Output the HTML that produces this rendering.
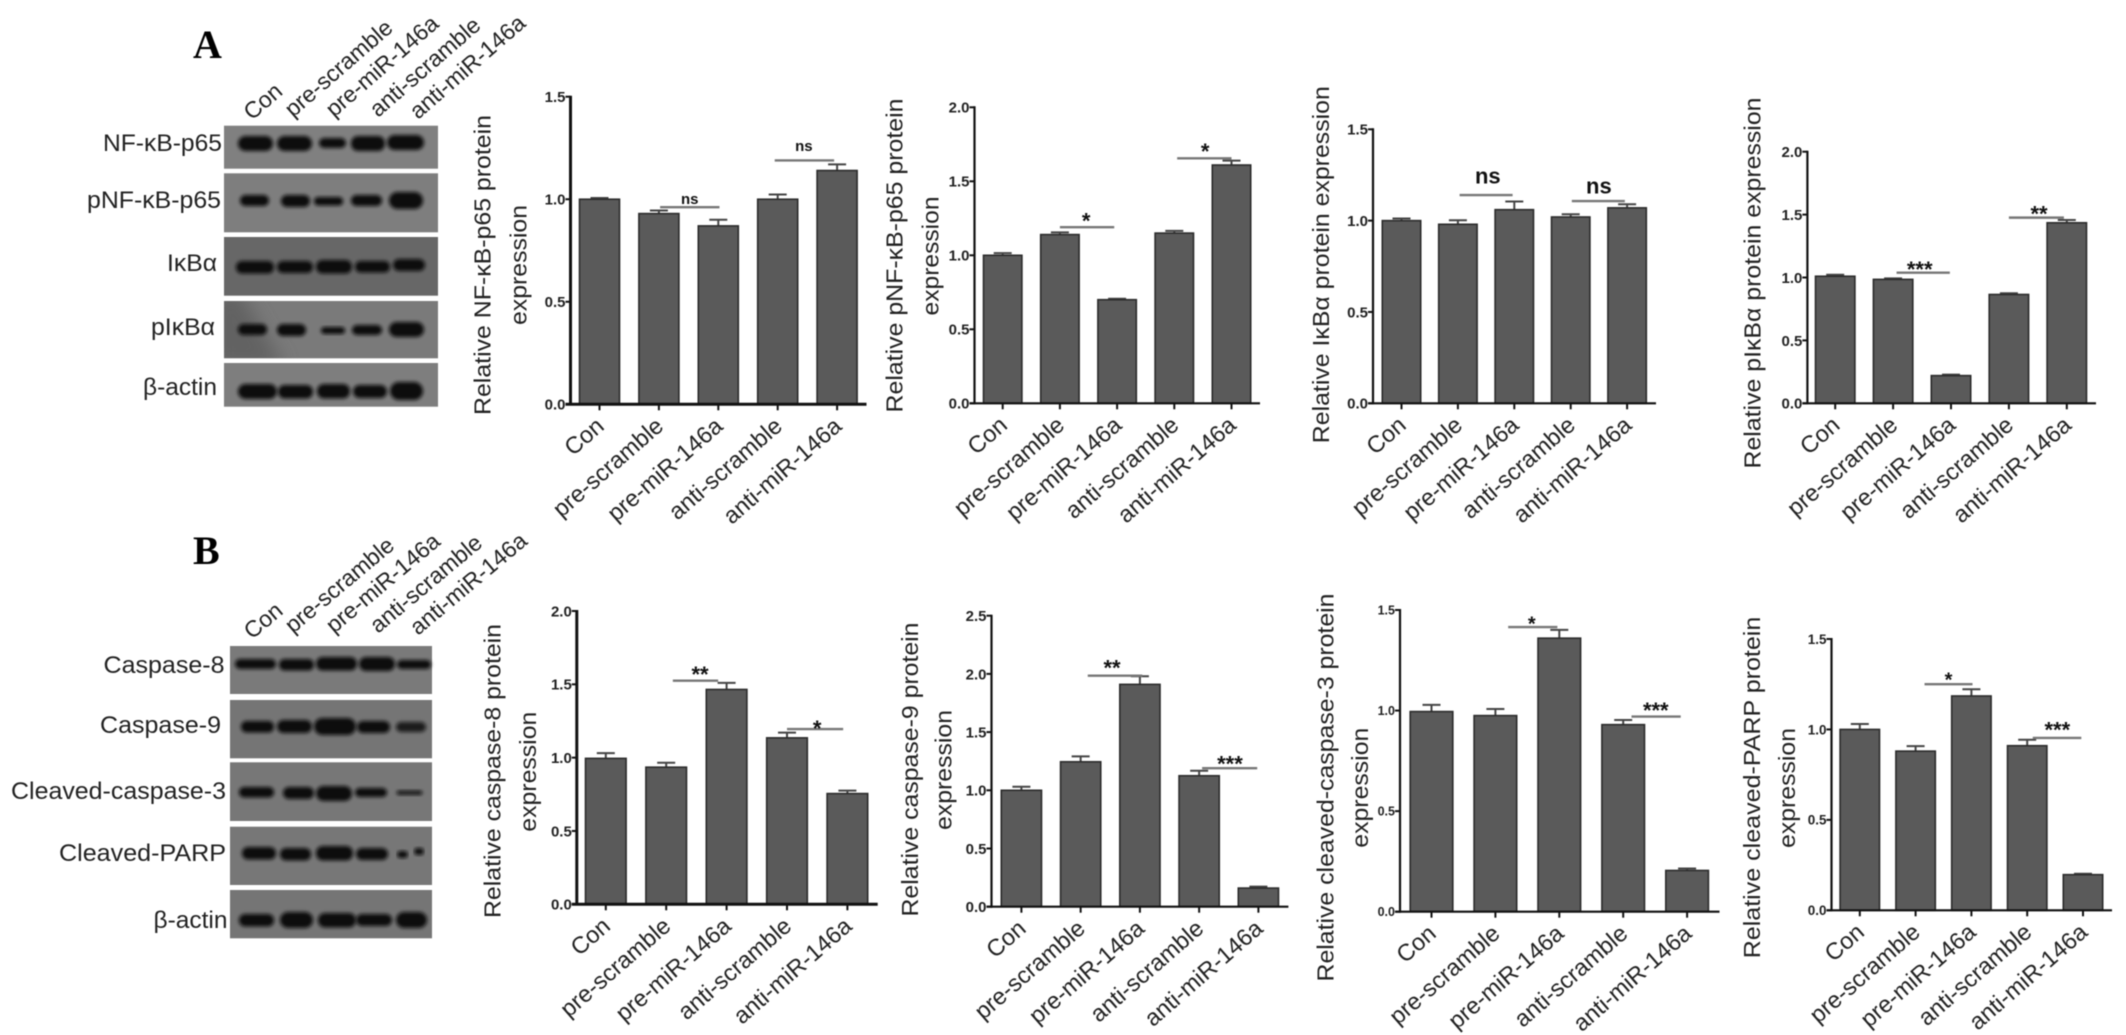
<!DOCTYPE html>
<html lang="en">
<head>
<meta charset="utf-8">
<title>Western blots and relative protein expression</title>
<style>
html,body{margin:0;padding:0;background:#fff;width:2126px;height:1035px;overflow:hidden}
svg{display:block;filter:blur(.45px)}
text{font-family:"Liberation Sans",sans-serif;fill:#222}
.letter{font-family:"Liberation Serif",serif;font-weight:bold;font-size:40px;fill:#000}
.blab{font-size:24px}
.lane{font-size:23px}
.band{fill:#0d0d0d;stroke:#0d0d0d;stroke-width:2;filter:url(#bandBlur)}
</style>
</head>
<body>
<svg id="figure" xmlns="http://www.w3.org/2000/svg" width="2126" height="1035" viewBox="0 0 2126 1035">
<defs>
<filter id="bandBlur" x="-20%" y="-60%" width="140%" height="220%"><feGaussianBlur stdDeviation="1.9"/></filter>
<filter id="softBlur" x="-30%" y="-30%" width="160%" height="160%"><feGaussianBlur stdDeviation="9"/></filter>
<clipPath id="clipP4"><rect x="224" y="301" width="214" height="57"/></clipPath>
</defs>

<text class="letter" x="193" y="58">A</text>
<text class="letter" x="193" y="564">B</text>

<!-- Blot A lane labels -->
<g>
<text class="lane" transform="translate(252,121) rotate(-41)">Con</text>
<text class="lane" transform="translate(293,118) rotate(-41)">pre-scramble</text>
<text class="lane" transform="translate(334,118) rotate(-41)">pre-miR-146a</text>
<text class="lane" transform="translate(378,118) rotate(-41)">anti-scramble</text>
<text class="lane" transform="translate(418,120) rotate(-41)">anti-miR-146a</text>
</g>

<!-- Blot A -->
<g>
<text class="blab" x="222" y="151" text-anchor="end" textLength="119" lengthAdjust="spacingAndGlyphs">NF-κB-p65</text>
<text class="blab" x="221" y="208" text-anchor="end" textLength="134" lengthAdjust="spacingAndGlyphs">pNF-κB-p65</text>
<text class="blab" x="217" y="271" text-anchor="end" textLength="50" lengthAdjust="spacingAndGlyphs">IκBα</text>
<text class="blab" x="215" y="335" text-anchor="end" textLength="64" lengthAdjust="spacingAndGlyphs">pIκBα</text>
<text class="blab" x="217" y="395" text-anchor="end" textLength="74" lengthAdjust="spacingAndGlyphs">β-actin</text>

<rect x="224" y="125.7" width="214" height="43" fill="#808080"/>
<rect class="band" x="239" y="137" width="33" height="13" rx="6.5"/>
<rect class="band" x="278" y="137" width="33" height="13" rx="6.5"/>
<rect class="band" x="320" y="139" width="25" height="8" rx="4"/>
<rect class="band" x="352" y="137" width="32" height="13" rx="6"/>
<rect class="band" x="388" y="136" width="35" height="13" rx="6.5"/>

<rect x="224" y="173.3" width="214" height="59" fill="#7e7e7e"/>
<rect class="band" x="241" y="196" width="27" height="9" rx="4.5"/>
<rect class="band" x="282" y="196" width="27" height="10" rx="5"/>
<rect class="band" x="315" y="198" width="27" height="6.5" rx="3"/>
<rect class="band" x="352" y="196" width="29" height="9" rx="4.5"/>
<rect class="band" x="390" y="193" width="32" height="15" rx="7.5"/>

<rect x="224" y="237" width="214" height="58.7" fill="#676767"/>
<rect class="band" x="237" y="262" width="36" height="10.5" rx="5"/>
<rect class="band" x="278" y="262" width="34" height="10" rx="5"/>
<rect class="band" x="317" y="261" width="34" height="11.5" rx="5.5"/>
<rect class="band" x="356" y="262" width="33" height="9.5" rx="4.5"/>
<rect class="band" x="394" y="260" width="30" height="10" rx="5"/>

<rect x="224" y="301" width="214" height="57.3" fill="#7a7a7a"/>
<g clip-path="url(#clipP4)">
<polygon points="214,291 240,291 285,368 214,368" fill="#626262" filter="url(#softBlur)"/>
</g>
<rect class="band" x="239" y="325" width="27" height="9" rx="4.5"/>
<rect class="band" x="278" y="325" width="27" height="10" rx="5"/>
<rect class="band" x="322" y="328" width="22" height="5" rx="2.5"/>
<rect class="band" x="353" y="326" width="28" height="8" rx="4"/>
<rect class="band" x="390" y="323" width="33" height="13" rx="6.5"/>

<rect x="224" y="363" width="214" height="43.7" fill="#7e7e7e"/>
<rect class="band" x="239" y="385" width="37" height="13" rx="6.5"/>
<rect class="band" x="279" y="386" width="33" height="11.5" rx="5.5"/>
<rect class="band" x="318" y="385" width="31" height="12.5" rx="6"/>
<rect class="band" x="354" y="386" width="32" height="11" rx="5.5"/>
<rect class="band" x="391" y="383" width="31" height="16" rx="8"/>
</g>

<!-- Blot B lane labels -->
<g>
<text class="lane" transform="translate(252,640) rotate(-40)">Con</text>
<text class="lane" transform="translate(293,634) rotate(-40)">pre-scramble</text>
<text class="lane" transform="translate(334,634) rotate(-40)">pre-miR-146a</text>
<text class="lane" transform="translate(378,634) rotate(-40)">anti-scramble</text>
<text class="lane" transform="translate(418,636) rotate(-40)">anti-miR-146a</text>
</g>

<!-- Blot B -->
<g>
<text class="blab" x="224.5" y="673" text-anchor="end" textLength="121" lengthAdjust="spacingAndGlyphs">Caspase-8</text>
<text class="blab" x="221" y="733" text-anchor="end" textLength="121" lengthAdjust="spacingAndGlyphs">Caspase-9</text>
<text class="blab" x="226" y="799" text-anchor="end" textLength="215" lengthAdjust="spacingAndGlyphs">Cleaved-caspase-3</text>
<text class="blab" x="226" y="861" text-anchor="end" textLength="167" lengthAdjust="spacingAndGlyphs">Cleaved-PARP</text>
<text class="blab" x="227.5" y="928" text-anchor="end" textLength="74" lengthAdjust="spacingAndGlyphs">β-actin</text>

<rect x="230" y="646" width="202" height="48" fill="#7a7a7a"/>
<rect class="band" x="236" y="660" width="39" height="8" rx="4"/>
<rect class="band" x="280" y="660" width="33" height="9.5" rx="4.5"/>
<rect class="band" x="317" y="658" width="39" height="11.5" rx="5.5"/>
<rect class="band" x="360" y="658" width="34" height="12" rx="6"/>
<rect class="band" x="398" y="661" width="32" height="7" rx="3.5"/>

<rect x="230" y="700" width="202" height="58.3" fill="#757575"/>
<rect class="band" x="242" y="722" width="31" height="9.5" rx="4.5"/>
<rect class="band" x="278" y="721" width="33" height="11" rx="5.5"/>
<rect class="band" x="315" y="719" width="40" height="15" rx="7.5"/>
<rect class="band" x="358" y="722" width="31" height="10" rx="5"/>
<rect class="band" x="397" y="723" width="28" height="8" rx="4" opacity=".85"/>

<rect x="230" y="762.3" width="202" height="58.7" fill="#777"/>
<rect class="band" x="240" y="788" width="33" height="8.5" rx="4"/>
<rect class="band" x="284" y="788" width="29" height="10" rx="5"/>
<rect class="band" x="317" y="787" width="34" height="13" rx="6.5"/>
<rect class="band" x="356" y="789" width="30" height="7" rx="3.5"/>
<rect class="band" x="397" y="791" width="25" height="3.5" rx="1.7" style="stroke-width:.6"/>

<rect x="230" y="826.7" width="202" height="58.3" fill="#777"/>
<rect class="band" x="243" y="848" width="32" height="10.5" rx="5"/>
<rect class="band" x="281" y="849" width="29" height="10.5" rx="5"/>
<rect class="band" x="317" y="847" width="35" height="12.5" rx="6"/>
<rect class="band" x="357" y="849" width="30" height="10" rx="5"/>
<rect class="band" x="398" y="852" width="9" height="5" rx="2.5"/>
<rect class="band" x="415" y="849" width="8" height="5" rx="2.5"/>

<rect x="230" y="890" width="202" height="48.3" fill="#757575"/>
<rect class="band" x="240" y="915" width="33" height="10.5" rx="5"/>
<rect class="band" x="281" y="913" width="31" height="14" rx="7"/>
<rect class="band" x="319" y="914" width="36" height="12.5" rx="6"/>
<rect class="band" x="357" y="915" width="34" height="10" rx="5"/>
<rect class="band" x="397" y="913" width="29" height="14" rx="7"/>
</g>

<g id="charts"></g>
</svg>

<script>
const categories = ['Con', 'pre-scramble', 'pre-miR-146a', 'anti-scramble', 'anti-miR-146a'];

const a1Ticks = ['0.0', '0.5', '1.0', '1.5'];
const a1Values = [1.0, 0.93, 0.87, 1.0, 1.14];
const a1Errors = [0.006, 0.015, 0.03, 0.023, 0.03];
const a1Sig = [
  {from: 1.02, to: 2.02, level: 0.961, text: 'ns', labelAt: 1.52, labelLevel: 0.997, size: 15},
  {from: 2.95, to: 3.95, level: 1.189, text: 'ns', labelAt: 3.44, labelLevel: 1.256, size: 15}
];

const a2Ticks = ['0.0', '0.5', '1.0', '1.5', '2.0'];
const a2Values = [1.0, 1.14, 0.70, 1.15, 1.61];
const a2Errors = [0.015, 0.015, 0.006, 0.015, 0.03];
const a2Sig = [
  {from: 1.0, to: 1.95, level: 1.19, text: '*', labelAt: 1.46, labelLevel: 1.26, size: 22},
  {from: 3.05, to: 4.0, level: 1.655, text: '*', labelAt: 3.54, labelLevel: 1.727, size: 22}
];

const a3Ticks = ['0.0', '0.5', '1.0', '1.5'];
const a3Values = [1.0, 0.98, 1.06, 1.02, 1.07];
const a3Errors = [0.012, 0.022, 0.045, 0.015, 0.02];
const a3Sig = [
  {from: 1.03, to: 1.97, level: 1.14, text: 'ns', labelAt: 1.53, labelLevel: 1.235, size: 22},
  {from: 3.02, to: 3.96, level: 1.107, text: 'ns', labelAt: 3.5, labelLevel: 1.18, size: 22}
];

const a4Ticks = ['0.0', '0.5', '1.0', '1.5', '2.0'];
const a4Values = [1.01, 0.985, 0.22, 0.865, 1.435];
const a4Errors = [0.012, 0.008, 0.008, 0.01, 0.022];
const a4Sig = [
  {from: 1.06, to: 1.98, level: 1.038, text: '***', labelAt: 1.46, labelLevel: 1.094, size: 22},
  {from: 3.0, to: 3.95, level: 1.476, text: '**', labelAt: 3.52, labelLevel: 1.537, size: 22}
];

const b1Ticks = ['0.0', '0.5', '1.0', '1.5', '2.0'];
const b1Values = [0.995, 0.935, 1.465, 1.135, 0.755];
const b1Errors = [0.036, 0.03, 0.045, 0.036, 0.02];
const b1Sig = [
  {from: 1.11, to: 1.86, level: 1.525, text: '**', labelAt: 1.56, labelLevel: 1.593, size: 22},
  {from: 3.0, to: 3.93, level: 1.195, text: '*', labelAt: 3.5, labelLevel: 1.227, size: 22}
];

const b2Ticks = ['0.0', '0.5', '1.0', '1.5', '2.0', '2.5'];
const b2Values = [1.0, 1.245, 1.91, 1.125, 0.16];
const b2Errors = [0.03, 0.046, 0.07, 0.043, 0.012];
const b2Sig = [
  {from: 1.12, to: 2.04, level: 1.985, text: '**', labelAt: 1.53, labelLevel: 2.085, size: 22},
  {from: 3.05, to: 3.98, level: 1.19, text: '***', labelAt: 3.52, labelLevel: 1.26, size: 22}
];

const b3Ticks = ['0.0', '0.5', '1.0', '1.5'];
const b3Values = [0.995, 0.975, 1.36, 0.93, 0.205];
const b3Errors = [0.033, 0.033, 0.041, 0.023, 0.01];
const b3Sig = [
  {from: 1.2, to: 1.97, level: 1.415, text: '*', labelAt: 1.57, labelLevel: 1.45, size: 20},
  {from: 3.13, to: 3.9, level: 0.97, text: '***', labelAt: 3.51, labelLevel: 1.02, size: 22}
];

const b4Ticks = ['0.0', '0.5', '1.0', '1.5'];
const b4Values = [1.0, 0.88, 1.185, 0.91, 0.197];
const b4Errors = [0.03, 0.028, 0.037, 0.033, 0.005];
const b4Sig = [
  {from: 1.16, to: 2.02, level: 1.25, text: '*', labelAt: 1.59, labelLevel: 1.295, size: 20},
  {from: 3.1, to: 3.97, level: 0.953, text: '***', labelAt: 3.54, labelLevel: 1.019, size: 22}
];

const chartList = [
  {id: 'nf-kb-p65', ticks: a1Ticks, values: a1Values, errors: a1Errors, sig: a1Sig,
   box: {axisX: 570.5, top: 96.7, base: 404.3, first: 599.5, step: 59.4, barW: 40, end: 866.5, axisW: 3, tickFont: 15},
   titles: [{t: 'Relative NF-κB-p65 protein', x: 482, y: 265, len: 300}, {t: 'expression', x: 518, y: 265, len: 120}]},
  {id: 'pnf-kb-p65', ticks: a2Ticks, values: a2Values, errors: a2Errors, sig: a2Sig,
   box: {axisX: 974.5, top: 107.3, base: 403.3, first: 1002.7, step: 57.2, barW: 38.4, end: 1260, axisW: 2.2, tickFont: 15},
   titles: [{t: 'Relative pNF-κB-p65 protein', x: 894, y: 255.5, len: 314}, {t: 'expression', x: 930, y: 256, len: 119}]},
  {id: 'ikba', ticks: a3Ticks, values: a3Values, errors: a3Errors, sig: a3Sig,
   box: {axisX: 1373, top: 129.3, base: 403.3, first: 1401.5, step: 56.4, barW: 38.4, end: 1656, axisW: 2.2, tickFont: 15},
   titles: [{t: 'Relative IκBα protein expression', x: 1320.5, y: 264.7, len: 357}]},
  {id: 'pikba', ticks: a4Ticks, values: a4Values, errors: a4Errors, sig: a4Sig,
   box: {axisX: 1807.4, top: 151.7, base: 403.3, first: 1835.2, step: 57.9, barW: 39.4, end: 2096, axisW: 2.2, tickFont: 15},
   titles: [{t: 'Relative pIκBα protein expression', x: 1752, y: 283, len: 371}]},
  {id: 'caspase-8', ticks: b1Ticks, values: b1Values, errors: b1Errors, sig: b1Sig,
   box: {axisX: 576.8, top: 611, base: 904.3, first: 605.8, step: 60.4, barW: 40.6, end: 877.7, axisW: 3, tickFont: 15},
   titles: [{t: 'Relative caspase-8 protein', x: 492.4, y: 771, len: 294}, {t: 'expression', x: 527.6, y: 771.7, len: 120}]},
  {id: 'caspase-9', ticks: b2Ticks, values: b2Values, errors: b2Errors, sig: b2Sig,
   box: {axisX: 991.5, top: 615.7, base: 906.7, first: 1021.4, step: 59.25, barW: 40.2, end: 1288.4, axisW: 2.2, tickFont: 15},
   titles: [{t: 'Relative caspase-9 protein', x: 909.8, y: 769.5, len: 294}, {t: 'expression', x: 943.3, y: 770, len: 120}]},
  {id: 'cleaved-caspase-3', ticks: b3Ticks, values: b3Values, errors: b3Errors, sig: b3Sig,
   box: {axisX: 1400, top: 610, base: 911.7, first: 1431.5, step: 63.9, barW: 42.6, end: 1719.5, axisW: 2.2, tickFont: 12.5},
   titles: [{t: 'Relative cleaved-caspase-3 protein', x: 1325, y: 787.5, len: 388}, {t: 'expression', x: 1359.8, y: 787.7, len: 120}]},
  {id: 'cleaved-parp', ticks: b4Ticks, values: b4Values, errors: b4Errors, sig: b4Sig,
   box: {axisX: 1831.5, top: 639, base: 910.3, first: 1859.8, step: 55.8, barW: 39.4, end: 2112, axisW: 2.2, tickFont: 13.5},
   titles: [{t: 'Relative cleaved-PARP protein', x: 1751.9, y: 787.5, len: 341.6}, {t: 'expression', x: 1786.6, y: 788, len: 120}]}
];

const SVGNS = 'http://www.w3.org/2000/svg';

function make(parent, tag, attrs, txt) {
  const el = document.createElementNS(SVGNS, tag);
  for (const k in attrs) el.setAttribute(k, attrs[k]);
  if (txt !== undefined) el.textContent = txt;
  parent.appendChild(el);
  return el;
}

function drawChart(c) {
  const root = document.getElementById('charts');
  const b = c.box;
  const yMax = parseFloat(c.ticks[c.ticks.length - 1]);
  const yScale = v => b.base - (v / yMax) * (b.base - b.top);
  const xScale = i => b.first + i * b.step;

  const g = make(root, 'g', {});
  
  

  c.titles.forEach(tl => {
    const t = make(g, 'text', {
      transform: 'translate(' + tl.x + ',' + tl.y + ') rotate(-90)',
      'text-anchor': 'middle', dy: '0.36em', 'font-size': 23,
      textLength: tl.len, lengthAdjust: 'spacingAndGlyphs'
    }, tl.t);
    
    
  });

  c.values.forEach((v, i) => {
    const cx = xScale(i);
    const yTop = yScale(v);
    const yErr = yScale(v + c.errors[i]);

    const stem = make(g, 'line', {x1: cx, x2: cx, y1: yTop, y2: yErr, stroke: '#444', 'stroke-width': 2});
    
    

    const cap = make(g, 'line', {x1: cx - 9, x2: cx + 9, y1: yErr, y2: yErr, stroke: '#444', 'stroke-width': 2});
    
    

    const bar = make(g, 'rect', {
      x: cx - b.barW / 2, y: yTop, width: b.barW, height: b.base - yTop,
      fill: '#5a5a5a', stroke: '#2b2b2b', 'stroke-width': 1.6
    });
    
    

    const tick = make(g, 'line', {x1: cx, x2: cx, y1: b.base, y2: b.base + 6, stroke: '#111', 'stroke-width': 2});
    
    

    const lab = make(g, 'text', {
      transform: 'translate(' + (cx + 6) + ',' + (b.base + 24) + ') rotate(-41)',
      'text-anchor': 'end', 'font-size': 23.5
    }, categories[i]);
    
    
  });

  c.ticks.forEach(tk => {
    const y = yScale(parseFloat(tk));
    const tl = make(g, 'line', {x1: b.axisX - 5, x2: b.axisX, y1: y, y2: y, stroke: '#111', 'stroke-width': 2});
    
    

    const tt = make(g, 'text', {
      x: b.axisX - 5, y: y + b.tickFont * 0.36, 'text-anchor': 'end',
      'font-size': b.tickFont, 'font-weight': 'bold', style: 'fill:#222'
    }, tk);
    
    
  });

  const yAxis = make(g, 'line', {x1: b.axisX, x2: b.axisX, y1: b.top - 1, y2: b.base + 1, stroke: '#111', 'stroke-width': b.axisW});
  
  

  const xAxis = make(g, 'line', {x1: b.axisX - 5, x2: b.end, y1: b.base, y2: b.base, stroke: '#111', 'stroke-width': b.axisW});
  
  

  c.sig.forEach(s => {
    const ly = yScale(s.level);
    const ln = make(g, 'line', {x1: xScale(s.from), x2: xScale(s.to), y1: ly, y2: ly, stroke: '#777', 'stroke-width': 2.4});
    
    

    const shift = s.text === 'ns' ? 0.27 : 0.52;
    const st = make(g, 'text', {
      x: xScale(s.labelAt), y: yScale(s.labelLevel) + s.size * shift,
      'text-anchor': 'middle', 'font-size': s.size, 'font-weight': 'bold', style: 'fill:#111'
    }, s.text);
    
    
  });
}

chartList.forEach(drawChart);
</script>
</body>
</html>
